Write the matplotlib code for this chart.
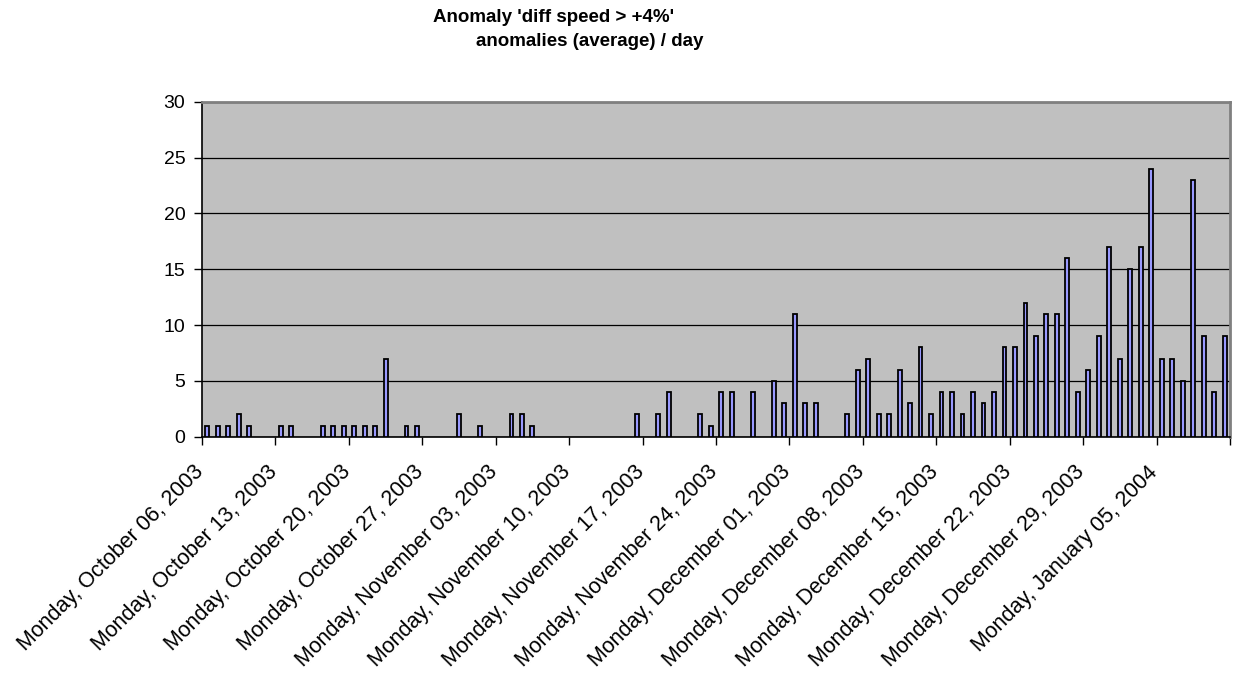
import matplotlib
matplotlib.use("Agg")
import matplotlib.pyplot as plt
import matplotlib.dates as mdates
import matplotlib.transforms as mtransforms
import numpy as np
import pandas as pd

plt.rcParams['font.family'] = ['Liberation Sans', 'DejaVu Sans']

# one value per day, Monday Oct 06 2003 .. Sunday Jan 11 2004
days = pd.date_range("2003-10-06", periods=98, freq="D")
anomalies = [1, 1, 1, 2, 1, 0, 0, 1, 1, 0, 0, 1, 1, 1, 1, 1, 1, 7, 0, 1,
             1, 0, 0, 0, 2, 0, 1, 0, 0, 2, 2, 1, 0, 0, 0, 0, 0, 0, 0, 0,
             0, 2, 0, 2, 4, 0, 0, 2, 1, 4, 4, 0, 4, 0, 5, 3, 11, 3, 3, 0,
             0, 2, 6, 7, 2, 2, 6, 3, 8, 2, 4, 4, 2, 4, 3, 4, 8, 8, 12, 9,
             11, 11, 16, 4, 6, 9, 17, 7, 15, 17, 24, 7, 7, 5, 23, 9, 4, 9]

week_ticks = pd.date_range("2003-10-06", "2004-01-12", freq="7D")
tick_labels = [d.strftime("%A, %B %d, %Y") for d in week_ticks[:-1]] + [""]

title_line1 = "Anomaly 'diff speed > +4%'"
title_line2 = "anomalies (average) / day"

fig = plt.figure(figsize=(12.39, 6.73), dpi=100)
ax = fig.add_axes([202 / 1239, 1 - 436.7 / 673, 1028 / 1239, 335 / 673])

# days without anomalies get no bar at all
x = mdates.date2num(days) + 0.5
vals = np.array(anomalies)
has = vals > 0
ax.bar(x[has], vals[has], width=0.37, color='#9999FF', edgecolor='black',
       linewidth=1.3, zorder=3)

ax.set_facecolor('#C0C0C0')
ax.set_xlim(mdates.date2num(week_ticks[0]), mdates.date2num(week_ticks[-1]))
ax.set_ylim(0, 30)
ax.set_yticks(range(0, 31, 5))
ax.yaxis.grid(True, color='black', linewidth=0.9)
ax.set_axisbelow(True)

ax.set_xticks(mdates.date2num(week_ticks))
ax.set_xticklabels(tick_labels, rotation=45, ha='right', va='top',
                   rotation_mode='anchor', fontsize=15.5)
ax.tick_params(axis='x', direction='out', length=6, width=1, pad=12)
ax.tick_params(axis='y', direction='out', length=6, width=1, pad=6,
               labelsize=14)

# nudge the rotated date labels a little to the left
shift = mtransforms.ScaledTranslation(-9 / 100, 0, fig.dpi_scale_trans)
for lab in ax.get_xticklabels():
    lab.set_transform(lab.get_transform() + shift)

for side in ['top', 'right']:
    ax.spines[side].set_color('#808080')
    ax.spines[side].set_linewidth(2)
for side in ['left', 'bottom']:
    ax.spines[side].set_color('black')
    ax.spines[side].set_linewidth(1.2)

fig.text(433 / 1239, 1 - 18 / 673, title_line1, ha='left', va='center',
         fontsize=13.5, fontweight='bold')
fig.text(476 / 1239, 1 - 42 / 673, title_line2, ha='left', va='center',
         fontsize=13.5, fontweight='bold')

fig.savefig('out.png', dpi=100)
